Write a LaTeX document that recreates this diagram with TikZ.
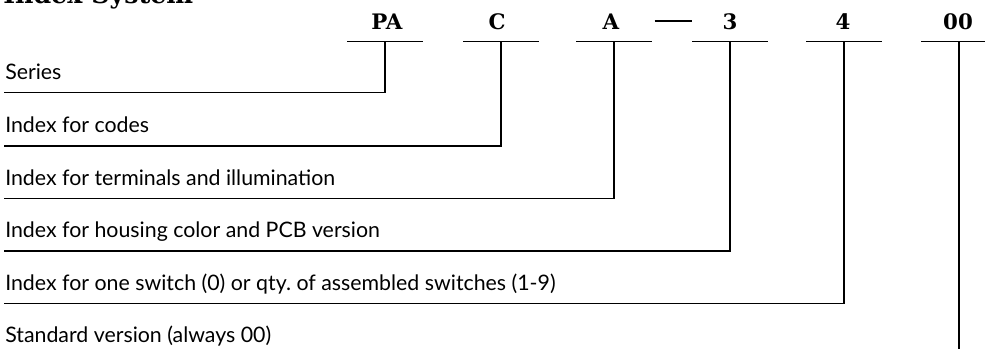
\documentclass[tikz,border=0pt]{standalone}
\usepackage{fontspec}
\setmainfont{Lato}
\newfontfamily\codefont{DejaVu Serif}
\usetikzlibrary{positioning,calc}

\tikzset{
  codelbl/.style={font=\codefont\bfseries\fontsize{16}{18}\selectfont, anchor=base, inner sep=0pt},
  fieldlbl/.style={font=\fontsize{16}{19}\selectfont, anchor=base west, inner sep=0pt},
  wire/.style={line width=1.1pt}
}

\begin{document}
\begin{tikzpicture}[x=0.75pt, y=-0.75pt]
    \useasboundingbox (0,0) rectangle (985,349);
    \clip (0,0) rectangle (985,349);
    % heading, cut at the top edge
    \node[font=\codefont\bfseries\fontsize{19}{22}\selectfont, anchor=base west, inner sep=0pt] (title) at (3,4) {Index System};
    % code letters with their bars
    \foreach \name/\code/\tx/\xpos in {pa/PA/387/385, c/C/497/501, a/A/611/614, three/3/730/730, four/4/843/844, zz/00/958/959} {
      \node[codelbl] (\name) at (\tx,30) {\code};
      \coordinate (\name-t) at (\xpos,41.5);
      \draw[wire] ([xshift=-28.5pt]\name-t) -- ([xshift=28.5pt]\name-t);
    }
    \node[inner sep=0pt] (dash) at (673,21) {\rule{27.75pt}{1.1pt}};
    % field names and leader lines
    \foreach \name/\ypos/\txt in {pa/92.5/Series, c/146/Index for codes, a/198.5/Index for terminals and illumination, three/251/Index for housing color and PCB version, four/303.5/Index for one switch (0) or qty.\ of assembled switches (1-9)} {
      \node[fieldlbl] (f-\name) at (5,\ypos-13) {\txt};
      \coordinate (s-\name) at (4,\ypos);
      \draw[wire] (\name-t) |- (s-\name);
    }
    \node[fieldlbl] (f-zz) at (5,342) {Standard version (always 00)};
    \coordinate (e-zz) at (959,352);
    \draw[wire] (zz-t) -- (e-zz);
  \end{tikzpicture}
\end{document}
